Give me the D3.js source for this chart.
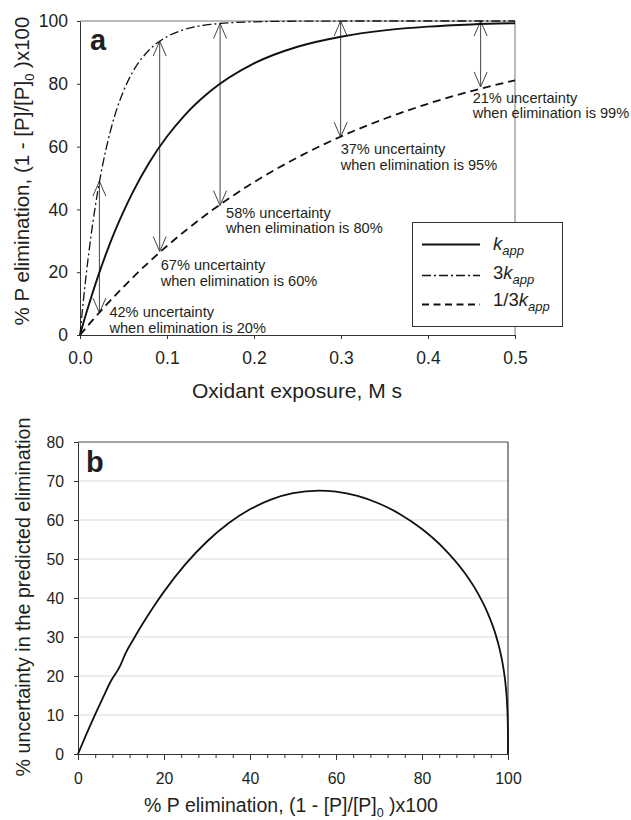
<!DOCTYPE html>
<html>
<head>
<meta charset="utf-8">
<script src="https://cdn.jsdelivr.net/npm/d3@7"></script>
<style>
  html, body { margin: 0; padding: 0; background: #fff; }
  svg { display: block; }
  text { font-family: "Liberation Sans", Arial, Helvetica, sans-serif; fill: #231f20; }
</style>
</head>
<body>
<svg id="chart" width="631" height="820"></svg>
<script>
// ---- Panel a: % P elimination vs oxidant exposure for three rate constants ----
const exposure      = [0, 0.005, 0.01, 0.015, 0.02, 0.03, 0.04, 0.05, 0.06, 0.08, 0.1, 0.12, 0.15, 0.2, 0.25, 0.3, 0.35, 0.4, 0.45, 0.5];
const elimKapp      = [0, 4.9, 9.5, 13.9, 18.1, 25.9, 33.0, 39.3, 45.1, 55.1, 63.2, 69.9, 77.7, 86.5, 91.8, 95.0, 97.0, 98.2, 98.9, 99.3];
const elim3Kapp     = [0, 13.9, 25.9, 36.2, 45.1, 59.3, 69.9, 77.7, 83.5, 90.9, 95.0, 97.3, 98.9, 99.75, 99.94, 99.99, 100, 100, 100, 100];
const elimThirdKapp = [0, 1.65, 3.28, 4.88, 6.45, 9.52, 12.48, 15.35, 18.13, 23.41, 28.35, 32.97, 39.35, 48.66, 56.54, 63.21, 68.86, 73.64, 77.69, 81.11];

// Uncertainty arrows: drawn from the 3k_app curve down by the stated uncertainty
const arrowExposure    = [0.0223, 0.0916, 0.161, 0.2996, 0.4605];
const arrowTop         = [49, 93.6, 99.2, 100, 100];
const uncertainty      = [42, 67, 58, 37, 21];
const eliminationLevel = [20, 60, 80, 95, 99];

const xTicksA = [0, 0.1, 0.2, 0.3, 0.4, 0.5];
const yTicksA = [0, 20, 40, 60, 80, 100];

// ---- Panel b: uncertainty vs predicted elimination ----
const eliminationPct = [0, 2, 4, 6, 7.5, 9.8, 11, 13, 15, 18, 20, 25, 30, 35, 40, 45, 50, 56, 60, 65, 70, 75, 80, 85, 90, 93, 95, 97, 98, 99, 99.5, 99.8, 99.9, 99.97, 99.99, 100];
const uncertaintyPct = [0, 5.21, 10.17, 14.9, 18.4, 22.6, 25.69, 29.61, 33.31, 38.46, 41.63, 48.67, 54.49, 59.16, 62.74, 65.29, 66.87, 67.54, 67.28, 66.19, 64.24, 61.43, 57.68, 52.8, 46.32, 41.18, 36.83, 31.07, 27.14, 21.54, 17.1, 12.6, 10.0, 6.69, 4.64, 0];

const xTicksB = [0, 20, 40, 60, 80, 100];
const xMinorB = d3.range(0, 101, 4);
const yTicksB = [0, 10, 20, 30, 40, 50, 60, 70, 80];

const svg = d3.select("#chart");
const AXIS = "#333";

// ======================= Panel a =======================
const xA = d3.scaleLinear().domain([0, 0.5]).range([80, 515]);
const yA = d3.scaleLinear().domain([0, 100]).range([335, 21]);

const gA = svg.append("g");

// frame (top and right)
gA.append("line").attr("x1", xA(0)).attr("x2", xA(0.5)).attr("y1", yA(100)).attr("y2", yA(100))
  .attr("stroke", "#777").attr("stroke-width", 1);
gA.append("line").attr("x1", xA(0.5)).attr("x2", xA(0.5)).attr("y1", yA(100)).attr("y2", yA(0))
  .attr("stroke", "#777").attr("stroke-width", 1);

const axA_x = gA.append("g").attr("transform", `translate(0,${yA(0)})`)
  .call(d3.axisBottom(xA).tickValues(xTicksA).tickFormat(d3.format(".1f"))
        .tickSizeInner(4).tickSizeOuter(0).tickPadding(13));
const axA_y = gA.append("g").attr("transform", `translate(${xA(0)},0)`)
  .call(d3.axisLeft(yA).tickValues(yTicksA).tickFormat(d3.format("d"))
        .tickSizeInner(3).tickSizeOuter(0).tickPadding(9));
[axA_x, axA_y].forEach(ax => {
  ax.selectAll("path, line").attr("stroke", AXIS);
  ax.selectAll("text").style("font-size", "17.5px").attr("fill", "#231f20");
});

const lineA = (ys) => d3.line().x((d, i) => xA(exposure[i])).y((d) => yA(d)).curve(d3.curveMonotoneX)(ys);

// arrows
const arrowColor = "#444";
arrowExposure.forEach((ex, i) => {
  const x = xA(ex);
  const yTop = yA(arrowTop[i]);
  const yBot = yA(arrowTop[i] - uncertainty[i]);
  const g = gA.append("g").attr("stroke", arrowColor).attr("stroke-width", 1).attr("fill", "none");
  g.append("line").attr("x1", x).attr("x2", x).attr("y1", yTop).attr("y2", yBot);
  const hl = 15, hw = 6.5;
  g.append("path").attr("d", `M${x - hw},${yTop + hl}L${x},${yTop}L${x + hw},${yTop + hl}`);
  g.append("path").attr("d", `M${x - hw},${yBot - hl}L${x},${yBot}L${x + hw},${yBot - hl}`);
});

// curves
gA.append("path").attr("d", lineA(elimThirdKapp)).attr("fill", "none")
  .attr("stroke", "#111").attr("stroke-width", 1.8).attr("stroke-dasharray", "8,5");
gA.append("path").attr("d", lineA(elim3Kapp)).attr("fill", "none")
  .attr("stroke", "#111").attr("stroke-width", 1.3).attr("stroke-dasharray", "9,3,2,3");
gA.append("path").attr("d", lineA(elimKapp)).attr("fill", "none")
  .attr("stroke", "#111").attr("stroke-width", 1.9);

// annotation labels, offset from the lower arrow head
const labelOffset = [[10, 4], [1, 19], [6, 12], [0, 17], [-8, 16]];
arrowExposure.forEach((ex, i) => {
  const x = xA(ex) + labelOffset[i][0];
  const y = yA(arrowTop[i] - uncertainty[i]) + labelOffset[i][1];
  const t = gA.append("text").attr("x", x).attr("y", y).style("font-size", "14.6px");
  t.append("tspan").attr("x", x).text(`${uncertainty[i]}% uncertainty`);
  t.append("tspan").attr("x", x).attr("dy", 15.5).text(`when elimination is ${eliminationLevel[i]}%`);
});

// panel letter
gA.append("text").attr("x", 90).attr("y", 50).style("font-size", "29px").style("font-weight", "bold").text("a");

// legend
const lg = gA.append("g");
lg.append("rect").attr("x", 412.5).attr("y", 222.5).attr("width", 150).attr("height", 104)
  .attr("fill", "#fff").attr("stroke", "#333").attr("stroke-width", 1);
const legendRows = [
  { dash: null, w: 1.9, y: 244.5, base: 249.5, pre: "" },
  { dash: "9,3,2,3", w: 1.3, y: 275.5, base: 278.5, pre: "3" },
  { dash: "7,4.5", w: 1.8, y: 304.5, base: 306, pre: "1/3" }
];
legendRows.forEach(r => {
  const ln = lg.append("line").attr("x1", 422).attr("x2", 480).attr("y1", r.y).attr("y2", r.y)
    .attr("stroke", "#111").attr("stroke-width", r.w);
  if (r.dash) ln.attr("stroke-dasharray", r.dash);
  const t = lg.append("text").attr("x", 493).attr("y", r.base).style("font-size", "18.5px");
  if (r.pre) t.append("tspan").text(r.pre);
  t.append("tspan").style("font-style", "italic").text("k");
  t.append("tspan").style("font-style", "italic").style("font-size", "13px").attr("dy", 5).text("app");
});

// axis titles
svg.append("text").attr("x", 297).attr("y", 398).attr("text-anchor", "middle")
  .style("font-size", "21px").text("Oxidant exposure, M s");

const yTitleA = svg.append("text").attr("transform", "translate(29,171) rotate(-90)")
  .attr("text-anchor", "middle").style("font-size", "20.5px");
yTitleA.append("tspan").text("% P elimination, (1 - [P]/[P]");
yTitleA.append("tspan").attr("dy", 5).style("font-size", "13px").text("0");
yTitleA.append("tspan").attr("dy", -5).text(" )x100");

// ======================= Panel b =======================
const xB = d3.scaleLinear().domain([0, 100]).range([78, 508]);
const yB = d3.scaleLinear().domain([0, 80]).range([754, 442]);

const gB = svg.append("g");

// gridlines
gB.selectAll("line.grid").data(yTicksB.filter(v => v > 0 && v < 80)).join("line")
  .attr("class", "grid")
  .attr("x1", xB(0)).attr("x2", xB(100)).attr("y1", d => yB(d)).attr("y2", d => yB(d))
  .attr("stroke", "#d9d9d9").attr("stroke-width", 1.2);

// frame
gB.append("line").attr("x1", xB(0)).attr("x2", xB(100)).attr("y1", yB(80)).attr("y2", yB(80))
  .attr("stroke", "#888").attr("stroke-width", 1.3);
gB.append("line").attr("x1", xB(100)).attr("x2", xB(100)).attr("y1", yB(80)).attr("y2", yB(0))
  .attr("stroke", "#222").attr("stroke-width", 1);

const axB_minor = gB.append("g").attr("transform", `translate(0,${yB(0)})`)
  .call(d3.axisBottom(xB).tickValues(xMinorB).tickFormat("").tickSizeInner(4).tickSizeOuter(0));
const axB_x = gB.append("g").attr("transform", `translate(0,${yB(0)})`)
  .call(d3.axisBottom(xB).tickValues(xTicksB).tickFormat(d3.format("d"))
        .tickSizeInner(6).tickSizeOuter(0).tickPadding(13));
const axB_y = gB.append("g").attr("transform", `translate(${xB(0)},0)`)
  .call(d3.axisLeft(yB).tickValues(yTicksB).tickFormat(d3.format("d"))
        .tickSizeInner(4).tickSizeOuter(0).tickPadding(10));
[axB_minor, axB_x, axB_y].forEach(ax => {
  ax.selectAll("path, line").attr("stroke", AXIS);
  ax.selectAll("text").style("font-size", "15.8px").attr("fill", "#231f20");
});

gB.append("path")
  .attr("d", d3.line().x((d, i) => xB(eliminationPct[i])).y(d => yB(d)).curve(d3.curveMonotoneX)(uncertaintyPct))
  .attr("fill", "none").attr("stroke", "#111").attr("stroke-width", 1.8);

gB.append("text").attr("x", 86).attr("y", 472).style("font-size", "29px").style("font-weight", "bold").text("b");

const xTitleB = svg.append("text").attr("x", 291).attr("y", 812).attr("text-anchor", "middle")
  .style("font-size", "19.5px");
xTitleB.append("tspan").text("% P elimination, (1 - [P]/[P]");
xTitleB.append("tspan").attr("dy", 5).style("font-size", "12.5px").text("0");
xTitleB.append("tspan").attr("dy", -5).text(" )x100");

svg.append("text").attr("transform", "translate(30,597) rotate(-90)")
  .attr("text-anchor", "middle").style("font-size", "19.7px")
  .text("% uncertainty in the predicted elimination");
</script>
</body>
</html>
